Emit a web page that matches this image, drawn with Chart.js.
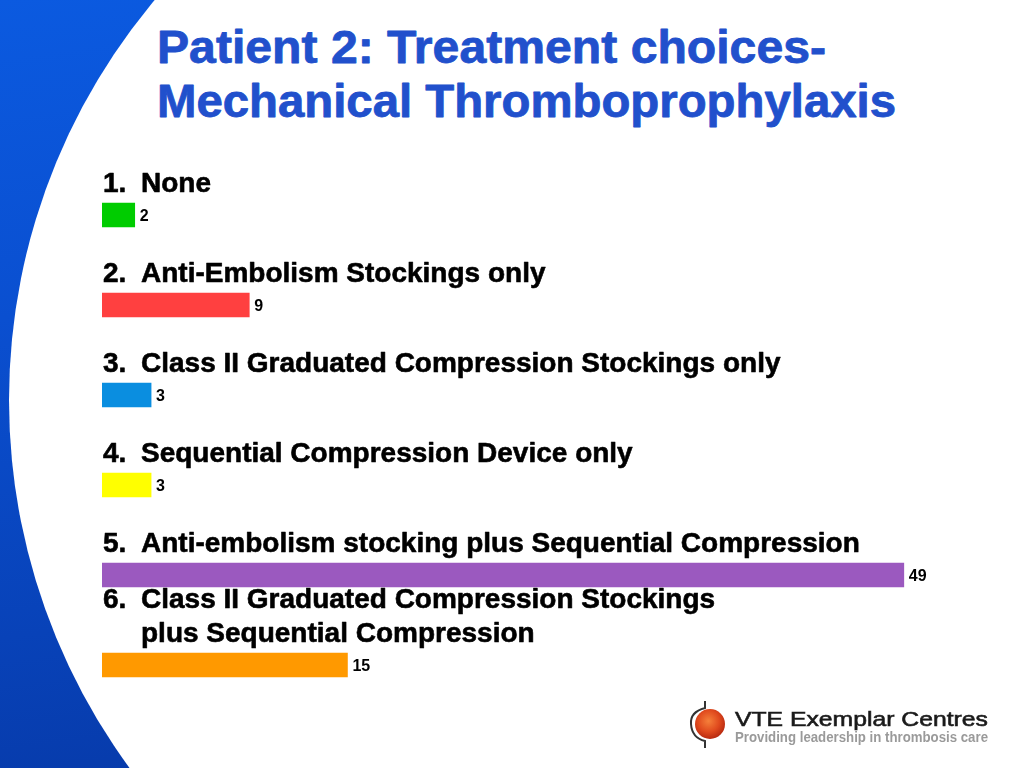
<!DOCTYPE html>
<html>
<head>
<meta charset="utf-8">
<script src="https://cdn.jsdelivr.net/npm/chart.js@4.4.1/dist/chart.umd.min.js"></script>
<style>
  html, body { margin: 0; padding: 0; width: 1024px; height: 768px; overflow: hidden; }
  body { position: relative; background: linear-gradient(172deg, #0b5ae0 0%, #0a4fd0 35%, #0842b8 70%, #0636a2 100%); font-family: Arial, "Liberation Sans", sans-serif; }
  #white { position: absolute; left: 9px; top: -222px; width: 1244px; height: 1244px; border-radius: 50%; background: #ffffff; }
  #title { position: absolute; left: 0; top: 0; }
  #logo { position: absolute; left: 0; top: 0; }
  #chart { position: absolute; left: 0; top: 0; }
</style>
</head>
<body>
<div id="white"></div>
<svg id="title" width="1024" height="140" xmlns="http://www.w3.org/2000/svg">
  <g font-family="Arial, Liberation Sans, sans-serif" font-weight="bold" font-size="46" fill="#2150cc" stroke="#2150cc" stroke-width="0.8" stroke-linejoin="round">
    <text x="157" y="63" textLength="669" lengthAdjust="spacingAndGlyphs">Patient 2: Treatment choices-</text>
    <text x="157" y="117" textLength="739" lengthAdjust="spacingAndGlyphs">Mechanical Thromboprophylaxis</text>
  </g>
</svg>
<canvas id="chart" width="1024" height="768"></canvas>
<svg id="logo" width="1024" height="768" xmlns="http://www.w3.org/2000/svg" style="pointer-events:none">
  <defs>
    <radialGradient id="ball" cx="0.45" cy="0.4" r="0.6">
      <stop offset="0" stop-color="#f5803a"/>
      <stop offset="0.6" stop-color="#e04a1e"/>
      <stop offset="1" stop-color="#b82a10"/>
    </radialGradient>
  </defs>
  <circle cx="710" cy="724" r="15" fill="url(#ball)"/>
  <path d="M705,701 L705,708 Q690,712 691,724 Q692,738 705,741 L705,748" fill="none" stroke="#333" stroke-width="2"/>
  <text x="735" y="726" font-family="Arial, Liberation Sans, sans-serif" font-size="21" fill="#1a1a1a" stroke="#1a1a1a" stroke-width="0.6" textLength="253" lengthAdjust="spacingAndGlyphs">VTE Exemplar Centres</text>
  <text x="735" y="742" font-family="Arial, Liberation Sans, sans-serif" font-weight="bold" font-size="14" fill="#9a9a9a" textLength="253" lengthAdjust="spacingAndGlyphs">Providing leadership in thrombosis care</text>
</svg>
<script>
// ---- data ----
const categoryNumbers = ["1.", "2.", "3.", "4.", "5.", "6."];
const categories = [
  ["None"],
  ["Anti-Embolism Stockings only"],
  ["Class II Graduated Compression Stockings only"],
  ["Sequential Compression Device only"],
  ["Anti-embolism stocking plus Sequential Compression"],
  ["Class II Graduated Compression Stockings", "plus Sequential Compression"]
];
const values = [2, 9, 3, 3, 49, 15];
const barColors = ["#00cc00", "#ff4040", "#0a8ee0", "#ffff00", "#9b59bf", "#ff9900"];

const labelPlugin = {
  id: 'optionLabels',
  afterDatasetsDraw(chart) {
    const ctx = chart.ctx;
    const meta = chart.getDatasetMeta(0);
    const xScale = chart.scales.x;
    const left = chart.chartArea.left;
    ctx.save();
    meta.data.forEach((bar, i) => {
      const cy = bar.y;
      ctx.fillStyle = '#000000';
      ctx.strokeStyle = '#000000';
      ctx.lineJoin = 'round';
      ctx.font = 'bold 28px Arial, "Liberation Sans", sans-serif';
      ctx.textBaseline = 'alphabetic';
      ctx.textAlign = 'left';
      const lines = categories[i];
      const lastBase = cy - 23;
      const firstBase = lastBase - 34 * (lines.length - 1);
      const draw = (t, x, y) => { ctx.lineWidth = 0.6; ctx.strokeText(t, x, y); ctx.fillText(t, x, y); };
      draw(categoryNumbers[i], left + 1, firstBase);
      lines.forEach((ln, k) => draw(ln, left + 39, firstBase + 34 * k));
      ctx.font = 'bold 16px Arial, "Liberation Sans", sans-serif';
      ctx.textBaseline = 'middle';
      ctx.fillText(String(values[i]), xScale.getPixelForValue(values[i]) + 5, cy + 1.5);
    });
    ctx.restore();
  }
};

new Chart(document.getElementById('chart'), {
  type: 'bar',
  data: {
    labels: categories.map(c => c.join(' ')),
    datasets: [{
      data: values,
      backgroundColor: barColors,
      borderWidth: 0,
      barThickness: 24
    }]
  },
  options: {
    indexAxis: 'y',
    responsive: false,
    animation: false,
    devicePixelRatio: 1,
    layout: { padding: { left: 102, right: 22, top: 170, bottom: 58 } },
    scales: {
      x: { display: false, min: 0, max: 55 },
      y: { display: false }
    },
    plugins: {
      legend: { display: false },
      tooltip: { enabled: false },
      title: { display: false }
    }
  },
  plugins: [labelPlugin]
});
</script>
</body>
</html>
